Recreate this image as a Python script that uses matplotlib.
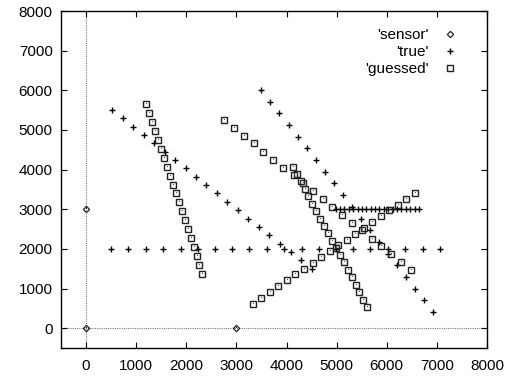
import matplotlib
matplotlib.use("Agg")
import matplotlib.pyplot as plt

plt.rcParams['font.family'] = ['Liberation Sans', 'DejaVu Sans']

# sensor positions
sensor_x = [0, 0, 3000]
sensor_y = [0, 3000, 0]

# true trajectories
true1_x = [520, 730, 940, 1150, 1360, 1570, 1780, 1990, 2200, 2400,
           2610, 2820, 3030, 3240, 3450, 3660, 3870, 4080, 4290, 4500]
true1_y = [5500, 5290, 5080, 4870, 4660, 4450, 4240, 4030, 3820, 3610,
           3400, 3190, 2970, 2760, 2550, 2340, 2130, 1920, 1710, 1500]
true2_x = [500, 845, 1190, 1540, 1885, 2230, 2570, 2915, 3260, 3605,
           3950, 4300, 4640, 4985, 5330, 5675, 6020, 6370, 6715, 7060]
true2_y = [2000] * 20
true3_x = [4980, 5067, 5155, 5242, 5330, 5417, 5505, 5592, 5680, 5767,
           5855, 5942, 6030, 6117, 6205, 6292, 6380, 6467, 6555, 6640]
true3_y = [3000] * 20
true4_x = [3500, 3680, 3860, 4040, 4220, 4400, 4580, 4760, 4940, 5120,
           5300, 5480, 5660, 5840, 6020, 6200, 6380, 6560, 6740, 6920]
true4_y = [6010, 5715, 5420, 5125, 4830, 4535, 4240, 3945, 3650, 3355,
           3060, 2765, 2470, 2175, 1880, 1585, 1290, 995, 700, 405]

# guessed trajectories
g1_x = [1200, 1260, 1320, 1380, 1430, 1490, 1550, 1610, 1670, 1730,
        1790, 1850, 1910, 1970, 2030, 2090, 2150, 2210, 2260, 2320]
g1_y = [5650, 5420, 5200, 4970, 4750, 4520, 4300, 4070, 3850, 3620,
        3400, 3170, 2950, 2720, 2500, 2270, 2050, 1820, 1600, 1370]
g2_x = [2762, 2955, 3148, 3347, 3539, 3738, 3937, 4150, 4323, 4523,
        4722, 4914, 5113, 5306, 5498, 5698, 5890, 6090, 6289, 6482]
g2_y = [5252, 5050, 4856, 4662, 4452, 4250, 4048, 3870, 3660, 3455,
        3258, 3056, 2860, 2659, 2465, 2255, 2061, 1860, 1657, 1465]
g3_x = [4124, 4204, 4280, 4360, 4436, 4512, 4589, 4668, 4748, 4822,
        4907, 4987, 5061, 5141, 5220, 5300, 5380, 5451, 5531, 5605]
g3_y = [4075, 3885, 3700, 3512, 3324, 3139, 2945, 2760, 2576, 2390,
        2204, 2020, 1833, 1657, 1472, 1288, 1093, 909, 722, 538]
g4_x = [3327, 3497, 3667, 3838, 4008, 4178, 4348, 4519, 4689, 4859,
        5029, 5199, 5370, 5540, 5710, 5880, 6050, 6221, 6391, 6561]
g4_y = [621, 768, 915, 1061, 1208, 1355, 1502, 1648, 1795, 1942,
        2089, 2235, 2382, 2529, 2676, 2822, 2969, 3116, 3263, 3409]

xticks = [0, 1000, 2000, 3000, 4000, 5000, 6000, 7000, 8000]
yticks = [0, 1000, 2000, 3000, 4000, 5000, 6000, 7000, 8000]

fig = plt.figure(figsize=(5.15, 3.76), dpi=100)
ax = fig.add_axes([0.1184, 0.0745, 0.8272, 0.8962])

ax.axhline(0, color='#777777', lw=0.8, ls=(0, (1, 1)), zorder=1)
ax.axvline(0, color='#777777', lw=0.8, ls=(0, (1, 1)), zorder=1)

mk_col = '#222222'
ax.plot(sensor_x, sensor_y, ls='none', marker='D', ms=3.2, mfc='none',
        mec=mk_col, mew=0.9, label="'sensor'", zorder=3)
ax.plot(sensor_x, sensor_y, ls='none', marker=',', color=mk_col, zorder=3)

tx = true1_x + true2_x + true3_x + true4_x
ty = true1_y + true2_y + true3_y + true4_y
ax.plot(tx, ty, ls='none', marker='+', ms=5, mew=1.0, color='black',
        label="'true'", zorder=3)

gx = g1_x + g2_x + g3_x + g4_x
gy = g1_y + g2_y + g3_y + g4_y
ax.plot(gx, gy, ls='none', marker='s', ms=4.6, mfc='none', mec=mk_col,
        mew=1.0, label="'guessed'", zorder=3)
ax.plot(gx, gy, ls='none', marker=',', color='#555555', zorder=3)

ax.set_xlim(-500, 8000)
ax.set_ylim(-500, 8000)
ax.set_xticks(xticks)
ax.set_yticks(yticks)
ax.tick_params(direction='in', length=4, width=0.8, top=True, right=True,
               labelsize=11, pad=6, colors='black')
ax.tick_params(axis='x', pad=8)
for s in ax.spines.values():
    s.set_linewidth(1.0)
    s.set_color('black')

leg = ax.legend(loc='upper right', frameon=False, markerfirst=False,
                fontsize=11, handlelength=1.0, handletextpad=0.9,
                labelspacing=0.2, borderaxespad=0.4,
                bbox_to_anchor=(0.96, 0.985))
for t in leg.get_texts():
    t.set_ha('right')

fig.savefig('out.png', dpi=100)
